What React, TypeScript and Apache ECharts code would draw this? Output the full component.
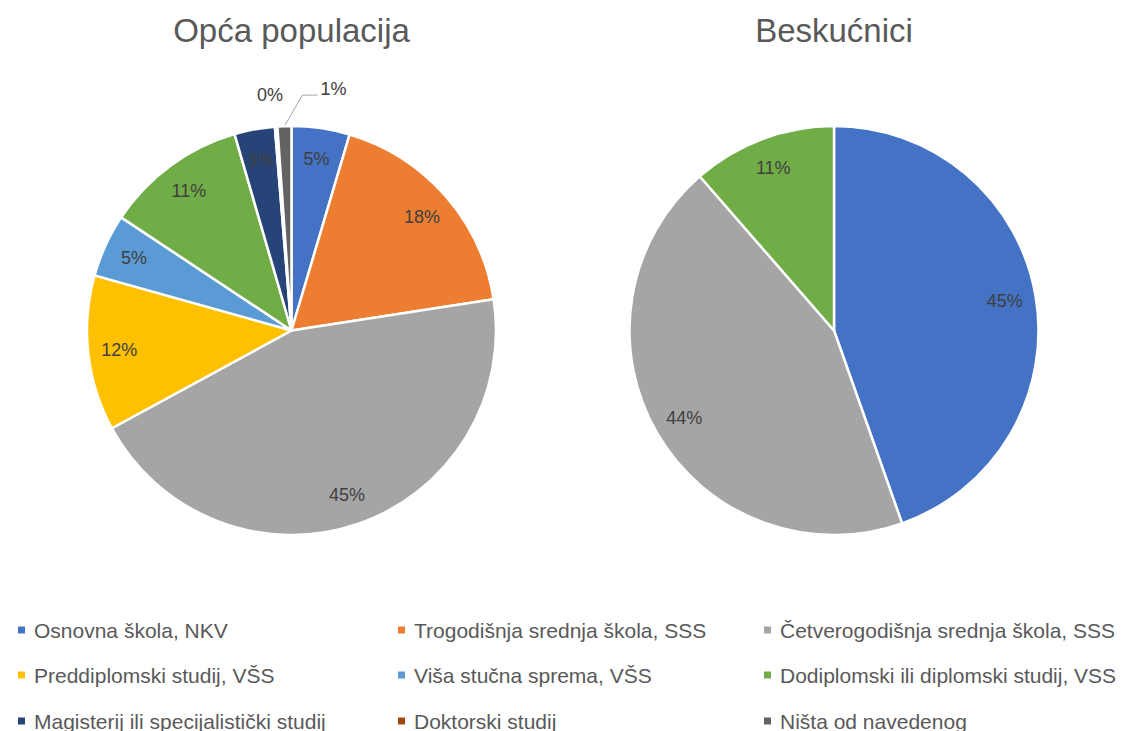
import React, { useEffect, useRef } from 'react';
import * as echarts from 'echarts';

const categories = [
  'Osnovna škola, NKV',
  'Trogodišnja srednja škola, SSS',
  'Četverogodišnja srednja škola, SSS',
  'Preddiplomski studij, VŠS',
  'Viša stučna sprema, VŠS',
  'Dodiplomski ili diplomski studij, VSS',
  'Magisterij ili specijalistički studij',
  'Doktorski studij',
  'Ništa od navedenog',
];
const colors = ['#4472C4', '#ED7D31', '#A5A5A5', '#FFC000', '#5B9BD5', '#70AD47', '#264478', '#9E480E', '#636363'];
const generalValues = [4.6, 18.0, 44.6, 12.3, 5.0, 11.2, 3.2, 0.2, 1.1];
const homelessValues = [44.6, 0, 44.0, 0, 0, 11.4, 0, 0, 0];
const titles = ['Opća populacija', 'Beskućnici'];

const FONT = '"Liberation Sans", Arial, sans-serif';
const R = 204.5;
const CENTERS = [[291.5, 330.5], [834, 330.5]];
const LEGEND_X = [16, 396, 762];
const LEGEND_Y = [619, 664, 710];

function buildData(values: number[], withSpecial: boolean, overlay: boolean) {
  const out: any[] = [];
  values.forEach((v, i) => {
    if (v <= 0) return;
    const item: any = {
      name: categories[i],
      value: v,
      itemStyle: overlay ? { color: 'rgba(0,0,0,0)', borderWidth: 0 } : { color: colors[i] },
    };
    if (overlay && withSpecial && i === 7) {
      item.label = { position: 'outside' };
      item.labelLine = { show: false, length: 0, length2: 0 };
    }
    if (overlay && withSpecial && i === 8) {
      item.label = { position: 'outside' };
      item.labelLine = { show: true, length: 10, length2: 10, lineStyle: { color: '#A6A6A6', width: 1 } };
    }
    out.push(item);
  });
  return out;
}

export default function App() {
  const ref = useRef<HTMLDivElement>(null);
  useEffect(() => {
    if (!ref.current) return;
    const chart = echarts.init(ref.current, undefined, { renderer: 'svg' });
    const series: any[] = [];
    [generalValues, homelessValues].forEach((vals, k) => {
      series.push({
        type: 'pie',
        center: CENTERS[k],
        radius: [0, R],
        startAngle: 90,
        clockwise: true,
        silent: true,
        avoidLabelOverlap: false,
        label: { show: false },
        labelLine: { show: false },
        itemStyle: { borderColor: '#ffffff', borderWidth: 2.5 },
        data: buildData(vals, false, false),
      });
      series.push({
        type: 'pie',
        center: CENTERS[k],
        radius: [136, R],
        startAngle: 90,
        clockwise: true,
        silent: true,
        avoidLabelOverlap: false,
        label: {
          show: true,
          position: 'inside',
          fontFamily: FONT,
          fontSize: 18,
          color: '#404040',
          formatter: (p: any) => Math.round(p.value) + '%',
        },
        labelLine: { show: false },
        labelLayout: (params: any) => {
          if (k !== 0) return {};
          if (params.dataIndex === 7) {
            return { dx: 12, dy: -32 };
          }
          if (params.dataIndex === 8 && params.labelLinePoints) {
            const p0 = params.labelLinePoints[0];
            const p1 = [p0[0] + 18, p0[1] - 31];
            const p2 = [p1[0] + 15, p1[1]];
            return {
              x: p2[0] + 3,
              y: p2[1] - 6,
              align: 'left',
              verticalAlign: 'middle',
              labelLinePoints: [p0, p1, p2],
            };
          }
          return {};
        },
        data: buildData(vals, k === 0, true),
      });
    });

    const legends: any[] = [];
    categories.forEach((name, i) => {
      const col = i % 3;
      const row = Math.floor(i / 3);
      legends.push({
        orient: 'horizontal',
        left: LEGEND_X[col],
        top: LEGEND_Y[row],
        padding: 0,
        itemWidth: 9,
        itemHeight: 9,
        icon: 'rect',
        selectedMode: false,
        textStyle: { fontFamily: FONT, fontSize: 21, color: '#595959', lineHeight: 22, padding: [0, 0, 0, 3] },
        data: [{ name, itemStyle: { color: colors[i] } }],
      });
    });

    chart.setOption({
      animation: false,
      backgroundColor: '#ffffff',
      title: titles.map((t, k) => ({
        text: t,
        left: CENTERS[k][0],
        textAlign: 'center',
        top: 14,
        padding: 0,
        textStyle: { fontFamily: FONT, fontSize: 33, fontWeight: 'normal', color: '#595959' },
      })),
      legend: legends,
      series,
    });
    return () => chart.dispose();
  }, []);
  return <div ref={ref} style={{ position: 'fixed', left: 0, top: 0, width: 1144, height: 731 }} />;
}
